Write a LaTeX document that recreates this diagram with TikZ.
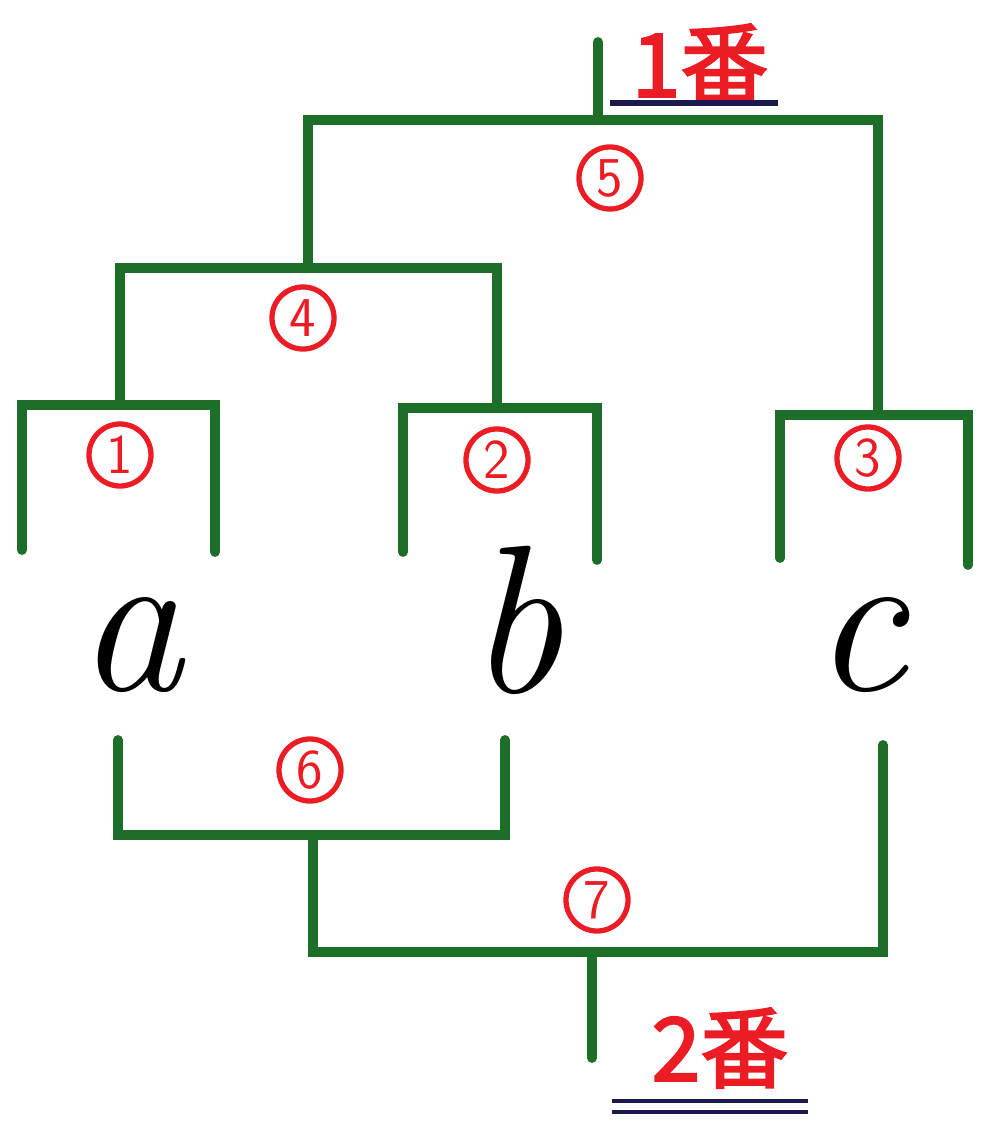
\documentclass[tikz,border=0pt]{standalone}
\usepackage{xcolor}
\usepackage{fontspec}
\usepackage{tikz}
\newfontfamily\cjk{Noto Sans CJK JP}[AutoFakeBold=2.5]
\definecolor{treegreen}{RGB}{28,110,40}
\definecolor{markred}{RGB}{235,28,36}
\definecolor{inknavy}{RGB}{25,25,80}

\begin{document}
\begin{tikzpicture}[x=0.01cm,y=-0.01cm,
  branch/.style={line width=2.8pt, treegreen, line cap=round, line join=miter},
  order/.style={circle, draw=markred, line width=1.5pt, text=markred, minimum size=0.62cm, inner sep=0pt, font=\sffamily\fontsize{16}{16}\selectfont},
  leaf/.style={anchor=base, font=\itshape\fontsize{60}{60}\selectfont},
  rank/.style={text=markred, font=\cjk\bfseries\fontsize{25}{25}\selectfont, inner sep=1pt}]
\useasboundingbox (0,0) rectangle (983,1124);
% top tree
\coordinate (l1) at (22,550);
\coordinate (r1) at (215,552);
\coordinate (j1) at (120,405);
\coordinate (l2) at (403,552);
\coordinate (r2) at (597,560);
\coordinate (j2) at (497,408);
\coordinate (l3) at (780,558);
\coordinate (r3) at (968,565);
\coordinate (j3) at (878,415);
\coordinate (j4) at (308,268);
\coordinate (j5) at (598,120);
\coordinate (top) at (598,42);
\draw[branch] (l1) |- (j1) -| (r1);
\draw[branch] (l2) |- (j2) -| (r2);
\draw[branch] (l3) |- (j3) -| (r3);
\draw[branch] (j1) |- (j4) -| (j2);
\draw[branch] (j4) |- (j5) -| (j3);
\draw[branch] (j5) -- (top);
\node[order] (o1) at (120,455) {1};
\node[order] (o2) at (497,460) {2};
\node[order] (o3) at (868,458) {3};
\node[order] (o4) at (303,318) {4};
\node[order] (o5) at (610,178) {5};
\node[rank] (first) at (700,64) {1番};
\draw[line width=1.6pt, inknavy] (610,103) -- (778,103);
% leaves
\node[leaf] (a) at (130,690) {a};
\node[leaf] (b) at (515,692) {b};
\node[leaf] (c) at (860,690) {c};
% bottom tree
\coordinate (l6) at (118,740);
\coordinate (r6) at (505,740);
\coordinate (j6) at (313,835);
\coordinate (r7) at (883,745);
\coordinate (j7) at (592,952);
\coordinate (bot) at (592,1058);
\draw[branch] (l6) |- (j6) -| (r6);
\draw[branch] (j6) |- (j7) -| (r7);
\draw[branch] (j7) -- (bot);
\node[order] (o6) at (310,770) {6};
\node[order] (o7) at (597,900) {7};
\node[rank] (second) at (720,1048) {2番};
\draw[line width=1.4pt, inknavy] (612,1101) -- (808,1101);
\draw[line width=1.4pt, inknavy] (612,1112) -- (808,1112);
\end{tikzpicture}
\end{document}
